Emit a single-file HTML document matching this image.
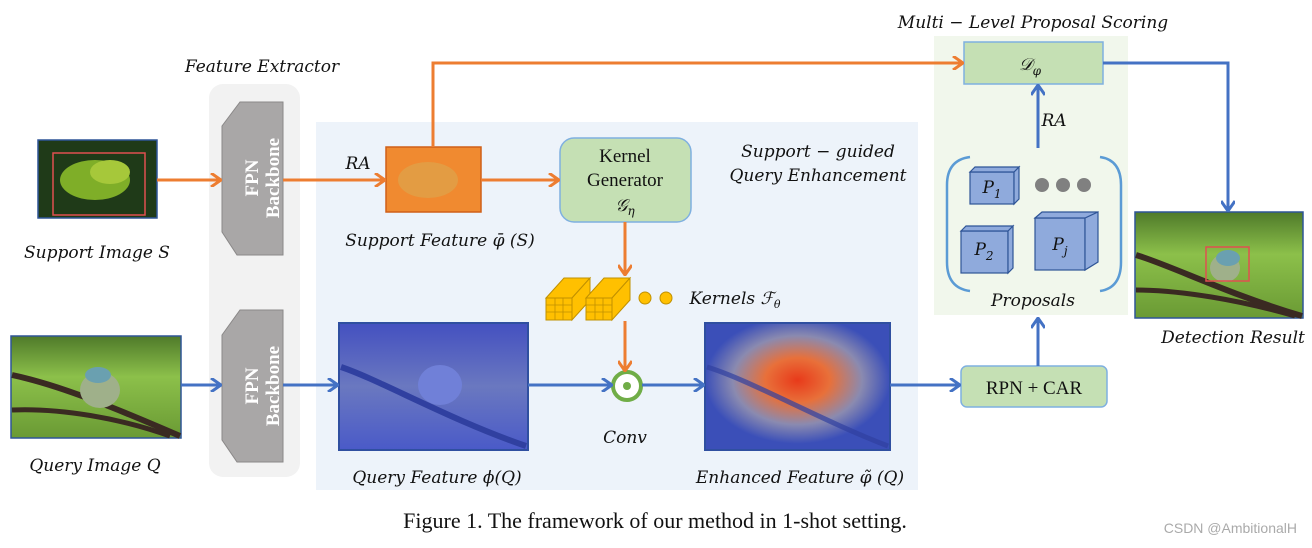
<!DOCTYPE html>
<html><head><meta charset="utf-8"><style>
body{margin:0;background:#fff}
svg{display:block}
.it{font-family:"DejaVu Serif","Liberation Serif",serif;font-style:italic;font-size:17px;fill:#111}
.rm{font-family:"Liberation Serif",serif;fill:#111}
</style></head><body>
<svg width="1312" height="548" viewBox="0 0 1312 548" xmlns="http://www.w3.org/2000/svg">
<defs>
<marker id="ao" markerWidth="12" markerHeight="14" refX="10" refY="7" orient="auto" markerUnits="userSpaceOnUse"><path d="M1,0 L11,7 L1,14" fill="none" stroke="#ed7d31" stroke-width="3"/></marker>
<marker id="ab" markerWidth="12" markerHeight="14" refX="10" refY="7" orient="auto" markerUnits="userSpaceOnUse"><path d="M1,0 L11,7 L1,14" fill="none" stroke="#4472c4" stroke-width="3"/></marker>
<linearGradient id="grass" x1="0" y1="0" x2="0" y2="1"><stop offset="0" stop-color="#4f7a2a"/><stop offset="0.4" stop-color="#8cc04a"/><stop offset="1" stop-color="#6a9a34"/></linearGradient>
<radialGradient id="heat" cx="0.5" cy="0.45" r="0.5"><stop offset="0" stop-color="#e83a1a"/><stop offset="0.35" stop-color="#e8703a"/><stop offset="0.7" stop-color="#8a8ab0"/><stop offset="1" stop-color="#3b4fb8"/></radialGradient>
<linearGradient id="qf" x1="0" y1="0" x2="0" y2="1"><stop offset="0" stop-color="#4450c0"/><stop offset="0.5" stop-color="#6a78c0"/><stop offset="1" stop-color="#4a5ac8"/></linearGradient>
</defs>
<rect x="209" y="84" width="91" height="393" rx="14" fill="#f2f2f2"/>
<rect x="316" y="122" width="602" height="368" fill="#edf3fa"/>
<rect x="934" y="36" width="194" height="279" fill="#f1f7ec"/>
<text class="it" x="262" y="72" text-anchor="middle" font-size="16">Feature Extractor</text>
<text class="it" x="1033" y="28" text-anchor="middle" font-size="16">Multi − Level Proposal Scoring</text>
<g fill="#a9a7a7" stroke="#8a8888" stroke-width="1">
<path d="M283,102 L283,255 L237,255 L222,232 L222,126 L240,102 Z"/>
<path d="M283,310 L283,462 L237,462 L222,440 L222,335 L240,310 Z"/>
</g>
<g font-family="Liberation Serif,serif" font-weight="bold" font-size="19" fill="#fff">
<text transform="translate(258,178) rotate(-90)" text-anchor="middle">FPN</text>
<text transform="translate(279,178) rotate(-90)" text-anchor="middle">Backbone</text>
<text transform="translate(258,386) rotate(-90)" text-anchor="middle">FPN</text>
<text transform="translate(279,386) rotate(-90)" text-anchor="middle">Backbone</text>
</g>
<rect x="38" y="140" width="119" height="78" fill="#1f3a18" stroke="#2f5597" stroke-width="1.5"/>
<ellipse cx="95" cy="180" rx="35" ry="20" fill="#7fae28"/>
<ellipse cx="110" cy="172" rx="20" ry="12" fill="#a6c83a"/>
<rect x="53" y="153" width="92" height="62" fill="none" stroke="#e05050" stroke-width="1.5"/>
<text class="it" x="97" y="258" text-anchor="middle">Support Image S</text>
<rect x="11" y="336" width="170" height="102" fill="url(#grass)" stroke="#2f5597" stroke-width="1.5"/>
<path d="M12,375 C60,385 120,410 180,436" stroke="#3a2a22" stroke-width="6" fill="none"/>
<path d="M12,410 C60,408 120,418 170,436" stroke="#3a2a22" stroke-width="5" fill="none"/>
<ellipse cx="100" cy="390" rx="20" ry="18" fill="#9fb08a"/>
<ellipse cx="98" cy="375" rx="13" ry="8" fill="#6aa0b0"/>
<text class="it" x="95" y="471" text-anchor="middle">Query Image Q</text>
<rect x="1135" y="212" width="168" height="106" fill="url(#grass)" stroke="#2f5597" stroke-width="1.5"/>
<path d="M1136,255 C1170,265 1230,295 1302,316" stroke="#3a2a22" stroke-width="6" fill="none"/>
<path d="M1136,290 C1180,290 1240,300 1295,316" stroke="#3a2a22" stroke-width="5" fill="none"/>
<ellipse cx="1225" cy="268" rx="15" ry="14" fill="#9fb08a"/>
<ellipse cx="1228" cy="258" rx="12" ry="8" fill="#6aa0b0"/>
<rect x="1206" y="247" width="43" height="34" fill="none" stroke="#e05050" stroke-width="1.5"/>
<text class="it" x="1233" y="343" text-anchor="middle">Detection Result</text>
<rect x="386" y="147" width="95" height="65" fill="#f08a30" stroke="#d06018" stroke-width="1.5"/>
<ellipse cx="428" cy="180" rx="30" ry="18" fill="#e0a048" opacity="0.8"/>
<text class="it" x="358" y="169" text-anchor="middle" font-size="15">RA</text>
<text class="it" x="440" y="246" text-anchor="middle">Support Feature φ̄ (S)</text>
<rect x="560" y="138" width="131" height="84" rx="14" fill="#c5e0b4" stroke="#7fb0e0" stroke-width="1.5"/>
<text class="rm" x="625" y="162" text-anchor="middle" font-size="19">Kernel</text>
<text class="rm" x="625" y="186" text-anchor="middle" font-size="19">Generator</text>
<text class="it" x="625" y="211" text-anchor="middle" font-size="18">𝒢<tspan font-size="12" dy="4">η</tspan></text>
<text class="it" x="818" y="157" text-anchor="middle" font-size="16">Support − guided</text>
<text class="it" x="818" y="181" text-anchor="middle" font-size="16">Query Enhancement</text>
<g fill="#ffc000" stroke="#c09000" stroke-width="1">
<path d="M546,298 L564,278 L590,278 L572,298 Z"/><path d="M572,298 L590,278 L590,300 L572,320 Z"/><rect x="546" y="298" width="26" height="22"/>
<path d="M586,298 L604,278 L630,278 L612,298 Z"/><path d="M612,298 L630,278 L630,300 L612,320 Z"/><rect x="586" y="298" width="26" height="22"/>
<circle cx="645" cy="298" r="6"/><circle cx="666" cy="298" r="6"/>
</g>
<g stroke="#c09000" stroke-width="0.8"><path d="M546,305 H572 M546,312 H572 M555,298 V320 M563,298 V320 M586,305 H612 M586,312 H612 M595,298 V320 M603,298 V320"/></g>
<text class="it" x="735" y="304" text-anchor="middle">Kernels ℱ<tspan font-size="11" dy="4">θ</tspan></text>
<rect x="339" y="323" width="189" height="127" fill="url(#qf)" stroke="#2f4fa0" stroke-width="2"/>
<path d="M341,367 C380,380 450,420 526,446" stroke="#3040a0" stroke-width="6" fill="none"/>
<ellipse cx="440" cy="385" rx="22" ry="20" fill="#7080d8"/>
<text class="it" x="437" y="483" text-anchor="middle">Query Feature ϕ(Q)</text>
<rect x="705" y="323" width="185" height="127" fill="url(#heat)" stroke="#2f4fa0" stroke-width="2"/>
<path d="M707,367 C750,380 820,420 888,446" stroke="#3040a0" stroke-width="5" fill="none" opacity="0.7"/>
<text class="it" x="800" y="483" text-anchor="middle">Enhanced Feature φ̃ (Q)</text>
<circle cx="627" cy="386" r="14" fill="#fff" stroke="#70ad47" stroke-width="4"/>
<circle cx="627" cy="386" r="4" fill="#70ad47"/>
<text class="it" x="625" y="443" text-anchor="middle">Conv</text>
<rect x="964" y="42" width="139" height="42" fill="#c5e0b4" stroke="#7fb0e0" stroke-width="1.5"/>
<text class="it" x="1030" y="70" text-anchor="middle" font-size="19">𝒟<tspan font-size="12" dy="5">φ</tspan></text>
<text class="it" x="1054" y="126" text-anchor="middle" font-size="15">RA</text>
<path d="M970,157 Q947,160 947,185 L947,262 Q947,288 970,291" fill="none" stroke="#5b9bd5" stroke-width="2.5"/>
<path d="M1100,157 Q1121,160 1121,185 L1121,262 Q1121,288 1100,291" fill="none" stroke="#5b9bd5" stroke-width="2.5"/>
<g fill="#8faadc" stroke="#2f5597" stroke-width="1.2">
<rect x="970" y="172" width="44" height="32"/><path d="M970,172 L975,167 L1019,167 L1014,172 Z M1014,172 L1019,167 L1019,199 L1014,204 Z"/>
<rect x="961" y="231" width="47" height="42"/><path d="M961,231 L966,226 L1013,226 L1008,231 Z M1008,231 L1013,226 L1013,268 L1008,273 Z"/>
<rect x="1035" y="218" width="50" height="52"/><path d="M1035,218 L1042,212 L1098,212 L1085,218 Z M1085,218 L1098,212 L1098,262 L1085,270 Z"/>
</g>
<g fill="#808080"><circle cx="1042" cy="185" r="7"/><circle cx="1063" cy="185" r="7"/><circle cx="1084" cy="185" r="7"/></g>
<text class="it" x="992" y="193" text-anchor="middle" font-size="19">P<tspan font-size="12" dy="5">1</tspan></text>
<text class="it" x="984" y="255" text-anchor="middle" font-size="19">P<tspan font-size="12" dy="5">2</tspan></text>
<text class="it" x="1060" y="250" text-anchor="middle" font-size="19">P<tspan font-size="12" dy="5">j</tspan></text>
<text class="it" x="1033" y="306" text-anchor="middle">Proposals</text>
<rect x="961" y="366" width="146" height="41" rx="6" fill="#c5e0b4" stroke="#7fb0e0" stroke-width="1.5"/>
<text class="rm" x="1034" y="394" text-anchor="middle" font-size="19">RPN + CAR</text>
<g stroke="#ed7d31" stroke-width="3" fill="none">
<line x1="157" y1="180" x2="220" y2="180" marker-end="url(#ao)"/>
<line x1="283" y1="180" x2="384" y2="180" marker-end="url(#ao)"/>
<line x1="481" y1="180" x2="558" y2="180" marker-end="url(#ao)"/>
<polyline points="433,147 433,63 962,63" marker-end="url(#ao)"/>
<line x1="625" y1="222" x2="625" y2="274" marker-end="url(#ao)"/>
<line x1="625" y1="321" x2="625" y2="370" marker-end="url(#ao)"/>
</g>
<g stroke="#4472c4" stroke-width="3" fill="none">
<line x1="181" y1="385" x2="220" y2="385" marker-end="url(#ab)"/>
<line x1="283" y1="385" x2="337" y2="385" marker-end="url(#ab)"/>
<line x1="528" y1="385" x2="611" y2="385" marker-end="url(#ab)"/>
<line x1="642" y1="385" x2="703" y2="385" marker-end="url(#ab)"/>
<line x1="890" y1="385" x2="959" y2="385" marker-end="url(#ab)"/>
<line x1="1038" y1="366" x2="1038" y2="319" marker-end="url(#ab)"/>
<line x1="1038" y1="148" x2="1038" y2="86" marker-end="url(#ab)"/>
<polyline points="1103,63 1228,63 1228,210" marker-end="url(#ab)"/>
</g>
<text class="rm" x="655" y="528" text-anchor="middle" font-size="22">Figure 1. The framework of our method in 1-shot setting.</text>
<text x="1297" y="533" text-anchor="end" font-family="Liberation Sans,sans-serif" font-size="14" fill="#aaa">CSDN @AmbitionalH</text>
</svg>
</body></html>
